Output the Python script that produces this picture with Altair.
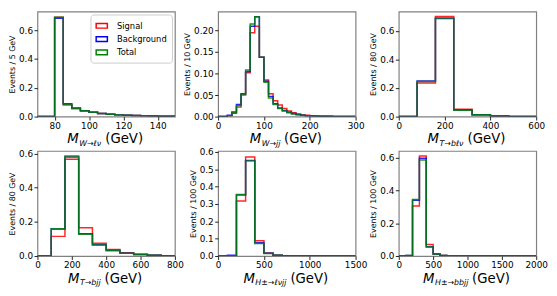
import altair as alt
import pandas as pd

FONT = "DejaVu Sans"
SERIES = ["Signal", "Background", "Total"]
COLORS = ["#ff0000", "#0000ff", "#008000"]

# ---- panel 1: M_W->lv, 5 GeV bins from 70
p1_start, p1_bin = 70, 5
p1_sig = [0, 0, 0.690, 0.080, 0.055, 0.040, 0.030, 0.022, 0.016, 0.012, 0.009, 0.007, 0.005, 0.004, 0.003, 0.003]
p1_bkg = [0, 0, 0.684, 0.090, 0.060, 0.041, 0.030, 0.022, 0.016, 0.012, 0.009, 0.007, 0.005, 0.004, 0.003, 0.003]
p1_tot = [0, 0, 0.690, 0.085, 0.058, 0.040, 0.030, 0.022, 0.016, 0.012, 0.009, 0.007, 0.005, 0.004, 0.003, 0.003]

# ---- panel 2: M_W->jj, 10 GeV bins from 0
p2_start, p2_bin = 0, 10
p2_sig = [0, 0, 0.002, 0.008, 0.022, 0.050, 0.102, 0.195, 0.210, 0.138, 0.085, 0.053, 0.037, 0.027, 0.019,
          0.013, 0.009, 0.006, 0.004, 0.003, 0.002, 0.0015, 0.001, 0.001, 0.001, 0, 0, 0, 0, 0]
p2_bkg = [0, 0, 0.003, 0.011, 0.028, 0.053, 0.105, 0.210, 0.232, 0.138, 0.082, 0.047, 0.030, 0.020, 0.014,
          0.010, 0.007, 0.005, 0.003, 0.002, 0.0015, 0.001, 0.001, 0.001, 0.001, 0, 0, 0, 0, 0]
p2_tot = [0, 0, 0.002, 0.009, 0.025, 0.052, 0.108, 0.215, 0.232, 0.138, 0.080, 0.043, 0.028, 0.019, 0.013,
          0.009, 0.006, 0.004, 0.003, 0.002, 0.0015, 0.001, 0.001, 0.001, 0.0005, 0, 0, 0, 0, 0]

# ---- panel 3: M_T->blv, 80 GeV bins from 0
p3_start, p3_bin = 0, 80
p3_sig = [0, 0.235, 0.700, 0.052, 0.013, 0.004, 0.001, 0]
p3_bkg = [0, 0.250, 0.686, 0.046, 0.013, 0.004, 0.001, 0]
p3_tot = [0, 0.246, 0.690, 0.045, 0.013, 0.004, 0.001, 0]

# ---- panel 4: M_T->bjj, 80 GeV bins from 0
p4_start, p4_bin = 0, 80
p4_sig = [0, 0.115, 0.567, 0.165, 0.075, 0.038, 0.020, 0.010, 0.005, 0.002]
p4_bkg = [0, 0.158, 0.580, 0.130, 0.066, 0.033, 0.017, 0.009, 0.005, 0.002]
p4_tot = [0, 0.160, 0.585, 0.128, 0.064, 0.032, 0.016, 0.009, 0.005, 0.002]

# ---- panel 5: M_H->lvjj, 100 GeV bins from 0
p5_start, p5_bin = 0, 100
p5_sig = [0, 0, 0.317, 0.570, 0.088, 0.018, 0.005, 0.002, 0, 0, 0, 0, 0, 0, 0]
p5_bkg = [0, 0.004, 0.352, 0.550, 0.076, 0.016, 0.004, 0.001, 0, 0, 0, 0, 0, 0, 0]
p5_tot = [0, 0.002, 0.355, 0.548, 0.072, 0.015, 0.004, 0.001, 0, 0, 0, 0, 0, 0, 0]

# ---- panel 6: M_H->bbjj, 100 GeV bins from 0
p6_start, p6_bin = 0, 100
p6_sig = [0, 0, 0.305, 0.610, 0.070, 0.013, 0.003, 0.001] + [0] * 12
p6_bkg = [0, 0.004, 0.340, 0.595, 0.056, 0.012, 0.004, 0.001] + [0] * 12
p6_tot = [0, 0.003, 0.345, 0.585, 0.055, 0.012, 0.003, 0.001] + [0] * 12

W, H = 140, 107

OBL = {"W": 0.989, "→": 0.838, "ℓ": 0.417, "ν": 0.592, "j": 0.278, "b": 0.635,
       "T": 0.611, "H": 0.752, "±": 0.838}
SUB_FS, BIG_FS = 8.0, 13.5


def title_layers(sub):
    m_w = 0.863 * BIG_FS
    sub_w = sum(OBL.get(c, 0.6) for c in sub) * SUB_FS
    gev_w = 2.858 * BIG_FS
    space = 0.318 * BIG_FS
    total = m_w + sub_w + space + gev_w
    x0 = W / 2 - total / 2 - 1
    one = pd.DataFrame({"a": [0]})
    base = dict(font=FONT, align="left", baseline="alphabetic", color="black")
    m = alt.Chart(one).mark_text(text="M", fontSize=BIG_FS, fontStyle="italic", **base).encode(
        x=alt.value(x0), y=alt.value(H + 27))
    s = alt.Chart(one).mark_text(text=sub, fontSize=SUB_FS, fontStyle="italic", **base).encode(
        x=alt.value(x0 + m_w + 0.5), y=alt.value(H + 30))
    g = alt.Chart(one).mark_text(text="(GeV)", fontSize=BIG_FS, **base).encode(
        x=alt.value(x0 + m_w + sub_w + space), y=alt.value(H + 27))
    return [m, s, g]


def panel(start, binw, sig, bkg, tot, xdom, xticks, ydom, yticks, yfmt, ytitle, sub, legend=False):
    rows = []
    for name, vals in zip(SERIES, [sig, bkg, tot]):
        pts = [(start, 0.0)]
        for i, v in enumerate(vals):
            pts.append((start + i * binw, v))
            pts.append((start + (i + 1) * binw, v))
        pts.append((start + len(vals) * binw, 0.0))
        for k, (x, y) in enumerate(pts):
            rows.append({"series": name, "x": x, "y": y, "k": k})
    df = pd.DataFrame(rows)
    leg = None
    if legend:
        leg = alt.Legend(title=None, orient="top-right", offset=3)
    lines = alt.Chart(df).mark_line(strokeWidth=1.5, clip=True, strokeOpacity=0.85).encode(
        x=alt.X("x:Q", scale=alt.Scale(domain=xdom, nice=False, zero=False),
                axis=alt.Axis(values=xticks, title=None, format="d")),
        y=alt.Y("y:Q", scale=alt.Scale(domain=ydom, nice=False),
                axis=alt.Axis(values=yticks, title=ytitle, format=yfmt)),
        color=alt.Color("series:N", scale=alt.Scale(domain=SERIES, range=COLORS), legend=leg),
        order="k:Q",
    )
    return alt.layer(lines, *title_layers(sub)).properties(width=W, height=H)


c1 = panel(p1_start, p1_bin, p1_sig, p1_bkg, p1_tot, [70, 150], [80, 100, 120, 140],
           [0, 0.73], [0, 0.2, 0.4, 0.6], ".1f", "Events / 5 GeV", "W→ℓν", legend=True)
c2 = panel(p2_start, p2_bin, p2_sig, p2_bkg, p2_tot, [0, 300], [0, 100, 200, 300],
           [0, 0.244], [0, 0.05, 0.10, 0.15, 0.20], ".2f", "Events / 10 GeV", "W→jj")
c3 = panel(p3_start, p3_bin, p3_sig, p3_bkg, p3_tot, [0, 600], [0, 200, 400, 600],
           [0, 0.735], [0, 0.2, 0.4, 0.6], ".1f", "Events / 80 GeV", "T→bℓν")
c4 = panel(p4_start, p4_bin, p4_sig, p4_bkg, p4_tot, [0, 800], [0, 200, 400, 600, 800],
           [0, 0.615], [0, 0.2, 0.4, 0.6], ".1f", "Events / 80 GeV", "T→bjj")
c5 = panel(p5_start, p5_bin, p5_sig, p5_bkg, p5_tot, [0, 1500], [0, 500, 1000, 1500],
           [0, 0.605], [0, 0.1, 0.2, 0.3, 0.4, 0.5, 0.6], ".1f", "Events / 100 GeV", "H±→ℓνjj")
c6 = panel(p6_start, p6_bin, p6_sig, p6_bkg, p6_tot, [0, 2000], [0, 500, 1000, 1500, 2000],
           [0, 0.64], [0, 0.2, 0.4, 0.6], ".1f", "Events / 100 GeV", "H±→bbjj")

chart = alt.concat(c1, c2, c3, c4, c5, c6, columns=3, spacing={"row": 35, "column": 44},
                   bounds="flush").resolve_scale(color="independent").properties(
    padding={"left": 0, "top": 0, "right": 0, "bottom": 0}
).configure_view(
    stroke="#808080", strokeWidth=1.2
).configure_axis(
    domain=False, grid=False, labelFont=FONT, titleFont=FONT, labelColor="black",
    tickColor="#222222", tickSize=3.5, labelFontSize=9, titleFontSize=8,
    titleFontWeight="normal", titleColor="black", labelFlush=False, labelOverlap=False,
).configure_axisY(
    labelPadding=1.5, titlePadding=2
).configure_axisX(
    labelPadding=1.5
).configure_legend(
    labelFont=FONT, labelFontSize=8.5, labelColor="black", padding=5, cornerRadius=3,
    strokeColor="#cccccc", fillColor="#ffffff", symbolType="M-1,-0.42H1V0.42H-1Z",
    symbolSize=130, symbolStrokeWidth=1.5, rowPadding=1.5, labelOffset=9,
)

chart.save("out.html", embed_options={"renderer": "svg", "actions": False})
